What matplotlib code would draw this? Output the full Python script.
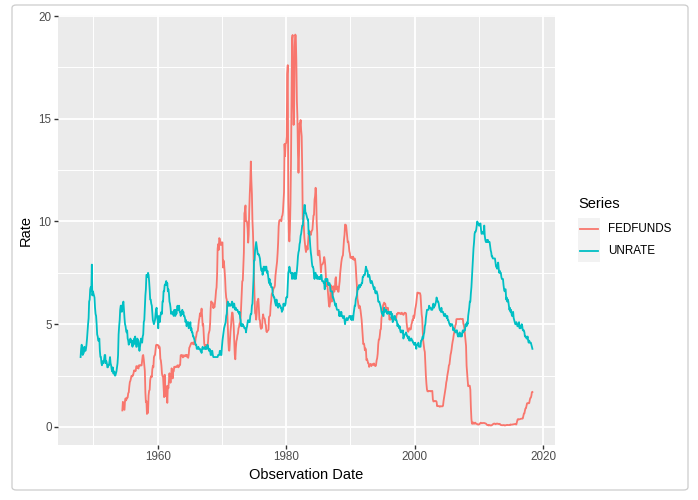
import numpy as np
import pandas as pd
import matplotlib
matplotlib.use("Agg")
import matplotlib.pyplot as plt
import matplotlib.dates as mdates
from matplotlib.patches import FancyBboxPatch, Rectangle
from matplotlib.lines import Line2D

# monthly unemployment rate, Jan 1948 - May 2018
unrate = [
    3.4, 3.8, 4.0, 3.9, 3.5, 3.6, 3.6, 3.9, 3.8, 3.7, 3.8, 4.0,
    4.3, 4.7, 5.0, 5.3, 6.1, 6.2, 6.7, 6.8, 6.6, 7.9, 6.4, 6.6,
    6.5, 6.4, 6.3, 5.8, 5.5, 5.4, 5.0, 4.5, 4.4, 4.2, 4.2, 4.3,
    3.7, 3.4, 3.4, 3.1, 3.0, 3.2, 3.1, 3.1, 3.3, 3.5, 3.5, 3.1,
    3.2, 3.1, 2.9, 2.9, 3.0, 3.0, 3.2, 3.4, 3.1, 3.0, 2.8, 2.7,
    2.9, 2.6, 2.6, 2.7, 2.5, 2.5, 2.6, 2.7, 2.9, 3.1, 3.5, 4.5,
    4.9, 5.2, 5.7, 5.9, 5.9, 5.6, 5.8, 6.0, 6.1, 5.7, 5.3, 5.0,
    4.9, 4.7, 4.6, 4.7, 4.3, 4.2, 4.0, 4.2, 4.1, 4.3, 4.2, 4.2,
    4.0, 3.9, 4.2, 4.0, 4.3, 4.3, 4.4, 4.1, 3.9, 3.9, 4.3, 4.2,
    4.2, 3.9, 3.7, 3.9, 4.1, 4.3, 4.2, 4.1, 4.4, 4.5, 5.1, 5.2,
    5.8, 6.4, 6.7, 7.4, 7.4, 7.3, 7.5, 7.4, 7.1, 6.7, 6.2, 6.2,
    6.0, 5.9, 5.6, 5.2, 5.1, 5.0, 5.1, 5.2, 5.5, 5.7, 5.8, 5.3,
    5.2, 4.8, 5.4, 5.2, 5.1, 5.4, 5.5, 5.6, 5.5, 6.1, 6.1, 6.6,
    6.6, 6.9, 6.9, 7.0, 7.1, 6.9, 7.0, 6.6, 6.7, 6.5, 6.1, 6.0,
    5.8, 5.5, 5.6, 5.6, 5.5, 5.5, 5.4, 5.7, 5.6, 5.4, 5.7, 5.5,
    5.7, 5.9, 5.7, 5.7, 5.9, 5.6, 5.6, 5.4, 5.5, 5.5, 5.7, 5.5,
    5.6, 5.4, 5.4, 5.3, 5.1, 5.2, 4.9, 5.0, 5.1, 5.1, 4.8, 5.0,
    4.9, 5.1, 4.7, 4.8, 4.6, 4.6, 4.4, 4.4, 4.3, 4.2, 4.1, 4.0,
    4.0, 3.8, 3.8, 3.8, 3.9, 3.8, 3.8, 3.8, 3.7, 3.7, 3.6, 3.8,
    3.9, 3.8, 3.8, 3.8, 3.8, 3.9, 3.8, 3.8, 3.8, 4.0, 3.9, 3.8,
    3.7, 3.8, 3.7, 3.5, 3.5, 3.7, 3.7, 3.5, 3.4, 3.4, 3.4, 3.4,
    3.4, 3.4, 3.4, 3.4, 3.4, 3.5, 3.5, 3.5, 3.7, 3.7, 3.5, 3.5,
    3.9, 4.2, 4.4, 4.6, 4.8, 4.9, 5.0, 5.1, 5.4, 5.5, 5.9, 6.1,
    5.9, 5.9, 6.0, 5.9, 5.9, 5.9, 6.0, 6.1, 6.0, 5.8, 6.0, 6.0,
    5.8, 5.7, 5.8, 5.7, 5.7, 5.7, 5.6, 5.6, 5.5, 5.6, 5.3, 5.2,
    4.9, 5.0, 4.9, 5.0, 4.9, 4.9, 4.8, 4.8, 4.8, 4.6, 4.8, 4.9,
    5.1, 5.2, 5.1, 5.1, 5.1, 5.4, 5.5, 5.5, 5.9, 6.0, 6.6, 7.2,
    8.1, 8.1, 8.6, 8.8, 9.0, 8.8, 8.6, 8.4, 8.4, 8.4, 8.3, 8.2,
    7.9, 7.7, 7.6, 7.7, 7.4, 7.6, 7.8, 7.8, 7.6, 7.7, 7.8, 7.8,
    7.5, 7.6, 7.4, 7.2, 7.0, 7.2, 6.9, 7.0, 6.8, 6.8, 6.8, 6.4,
    6.4, 6.3, 6.3, 6.1, 6.0, 5.9, 6.2, 5.9, 6.0, 5.8, 5.9, 6.0,
    5.9, 5.9, 5.8, 5.8, 5.6, 5.7, 5.7, 6.0, 5.9, 6.0, 5.9, 6.0,
    6.3, 6.3, 6.3, 6.9, 7.5, 7.6, 7.8, 7.7, 7.5, 7.5, 7.5, 7.2,
    7.5, 7.4, 7.4, 7.2, 7.5, 7.5, 7.2, 7.4, 7.6, 7.9, 8.3, 8.5,
    8.6, 8.9, 9.0, 9.3, 9.4, 9.6, 9.8, 9.8, 10.1, 10.4, 10.8, 10.8,
    10.4, 10.4, 10.3, 10.2, 10.1, 10.1, 9.4, 9.5, 9.2, 8.8, 8.5, 8.3,
    8.0, 7.8, 7.8, 7.7, 7.4, 7.2, 7.5, 7.5, 7.3, 7.4, 7.2, 7.3,
    7.3, 7.2, 7.2, 7.3, 7.2, 7.4, 7.4, 7.1, 7.1, 7.1, 7.0, 7.0,
    6.7, 7.2, 7.2, 7.1, 7.2, 7.2, 7.0, 6.9, 7.0, 7.0, 6.9, 6.6,
    6.6, 6.6, 6.6, 6.3, 6.3, 6.2, 6.1, 6.0, 5.9, 6.0, 5.8, 5.7,
    5.7, 5.7, 5.7, 5.4, 5.6, 5.4, 5.4, 5.6, 5.4, 5.4, 5.3, 5.3,
    5.4, 5.2, 5.0, 5.2, 5.2, 5.3, 5.2, 5.2, 5.3, 5.3, 5.4, 5.4,
    5.4, 5.3, 5.2, 5.4, 5.4, 5.2, 5.5, 5.7, 5.9, 5.9, 6.2, 6.3,
    6.4, 6.6, 6.8, 6.7, 6.9, 6.9, 6.8, 6.9, 6.9, 7.0, 7.0, 7.3,
    7.3, 7.4, 7.4, 7.4, 7.6, 7.8, 7.7, 7.6, 7.6, 7.3, 7.4, 7.4,
    7.3, 7.1, 7.0, 7.1, 7.1, 7.0, 6.9, 6.8, 6.7, 6.8, 6.6, 6.5,
    6.6, 6.6, 6.5, 6.4, 6.1, 6.1, 6.1, 6.0, 5.9, 5.8, 5.6, 5.5,
    5.6, 5.4, 5.4, 5.8, 5.6, 5.6, 5.7, 5.7, 5.6, 5.5, 5.6, 5.6,
    5.6, 5.5, 5.5, 5.6, 5.6, 5.3, 5.5, 5.1, 5.2, 5.2, 5.4, 5.4,
    5.3, 5.2, 5.2, 5.1, 4.9, 5.0, 4.9, 4.8, 4.9, 4.7, 4.6, 4.7,
    4.6, 4.6, 4.7, 4.3, 4.4, 4.5, 4.5, 4.5, 4.6, 4.5, 4.4, 4.4,
    4.3, 4.4, 4.2, 4.3, 4.2, 4.3, 4.3, 4.2, 4.2, 4.1, 4.1, 4.0,
    4.0, 4.1, 4.0, 3.8, 4.0, 4.0, 4.0, 4.1, 3.9, 3.9, 3.9, 3.9,
    4.2, 4.2, 4.3, 4.4, 4.3, 4.5, 4.6, 4.9, 5.0, 5.3, 5.5, 5.7,
    5.7, 5.7, 5.7, 5.9, 5.8, 5.8, 5.8, 5.7, 5.7, 5.7, 5.9, 6.0,
    5.8, 5.9, 5.9, 6.0, 6.1, 6.3, 6.2, 6.1, 6.1, 6.0, 5.8, 5.7,
    5.7, 5.6, 5.8, 5.6, 5.6, 5.6, 5.5, 5.4, 5.4, 5.5, 5.4, 5.4,
    5.3, 5.4, 5.2, 5.2, 5.1, 5.0, 5.0, 4.9, 5.0, 5.0, 5.0, 4.9,
    4.7, 4.8, 4.7, 4.7, 4.6, 4.6, 4.7, 4.7, 4.5, 4.4, 4.5, 4.4,
    4.6, 4.5, 4.4, 4.5, 4.4, 4.6, 4.7, 4.6, 4.7, 4.7, 4.7, 5.0,
    5.0, 4.9, 5.1, 5.0, 5.4, 5.6, 5.8, 6.1, 6.1, 6.5, 6.8, 7.3,
    7.8, 8.3, 8.7, 9.0, 9.4, 9.5, 9.5, 9.6, 9.8, 10.0, 9.9, 9.9,
    9.8, 9.8, 9.9, 9.9, 9.6, 9.4, 9.4, 9.5, 9.5, 9.4, 9.8, 9.3,
    9.1, 9.0, 9.0, 9.1, 9.0, 9.1, 9.0, 9.0, 9.0, 8.8, 8.6, 8.5,
    8.3, 8.3, 8.2, 8.2, 8.2, 8.2, 8.2, 8.0, 7.8, 7.8, 7.7, 7.9,
    8.0, 7.7, 7.5, 7.6, 7.5, 7.5, 7.3, 7.2, 7.2, 7.2, 6.9, 6.7,
    6.6, 6.7, 6.7, 6.2, 6.3, 6.1, 6.2, 6.1, 5.9, 5.7, 5.8, 5.6,
    5.7, 5.5, 5.4, 5.4, 5.6, 5.3, 5.2, 5.1, 5.0, 5.0, 5.1, 5.0,
    4.9, 4.9, 5.0, 5.1, 4.8, 4.9, 4.8, 4.9, 5.0, 4.9, 4.7, 4.7,
    4.7, 4.6, 4.4, 4.4, 4.4, 4.3, 4.3, 4.4, 4.2, 4.1, 4.2, 4.1,
    4.1, 4.1, 4.0, 3.9, 3.8,
]

# monthly effective federal funds rate, Jul 1954 - May 2018
fedfunds = [
    0.80, 1.22, 1.07, 0.85, 0.83, 1.28,
    1.39, 1.29, 1.35, 1.43, 1.43, 1.64, 1.68, 1.96, 2.18, 2.24, 2.35, 2.48,
    2.45, 2.50, 2.50, 2.62, 2.75, 2.71, 2.75, 2.73, 2.95, 2.96, 2.88, 2.94,
    2.84, 3.00, 2.96, 3.00, 3.00, 3.00, 2.99, 3.24, 3.47, 3.50, 3.28, 2.98,
    2.72, 1.67, 1.20, 1.26, 0.63, 0.93, 0.68, 1.53, 1.76, 1.80, 2.27, 2.42,
    2.48, 2.43, 2.80, 2.96, 2.90, 3.39, 3.47, 3.50, 3.76, 3.98, 4.00, 3.99,
    3.99, 3.97, 3.84, 3.92, 3.85, 3.32, 3.23, 2.98, 2.60, 2.47, 2.44, 1.98,
    1.45, 2.54, 2.02, 1.49, 1.98, 1.73, 1.17, 2.00, 1.88, 2.26, 2.61, 2.33,
    2.15, 2.37, 2.85, 2.78, 2.36, 2.68, 2.71, 2.93, 2.90, 2.90, 2.94, 2.93,
    2.92, 3.00, 2.98, 2.90, 3.00, 2.99, 3.02, 3.49, 3.48, 3.50, 3.48, 3.38,
    3.48, 3.48, 3.43, 3.47, 3.50, 3.50, 3.42, 3.50, 3.45, 3.36, 3.52, 3.85,
    3.90, 3.98, 4.04, 4.09, 4.10, 4.04, 4.09, 4.12, 4.01, 4.08, 4.10, 4.32,
    4.42, 4.60, 4.65, 4.67, 4.90, 5.17, 5.30, 5.53, 5.40, 5.53, 5.76, 5.40,
    4.94, 5.00, 4.53, 4.05, 3.94, 3.98, 3.79, 3.90, 3.99, 3.88, 4.13, 4.51,
    4.61, 4.71, 5.05, 5.76, 6.11, 6.07, 6.03, 6.03, 5.78, 5.91, 5.82, 6.02,
    6.30, 6.64, 6.79, 7.41, 8.67, 8.90, 8.61, 9.19, 9.15, 9.00, 8.85, 8.97,
    8.98, 8.98, 7.76, 8.10, 7.95, 7.61, 7.21, 6.61, 6.29, 6.20, 5.60, 4.90,
    4.14, 3.72, 3.71, 4.16, 4.63, 4.91, 5.31, 5.57, 5.55, 5.20, 4.91, 4.14,
    3.50, 3.29, 3.83, 4.17, 4.27, 4.46, 4.55, 4.80, 4.87, 5.04, 5.06, 5.33,
    5.94, 6.58, 7.09, 7.12, 7.84, 8.49, 10.40, 10.50, 10.78, 10.01, 10.03, 9.95,
    9.65, 8.97, 9.35, 10.51, 11.31, 11.93, 12.92, 12.01, 11.34, 10.06, 9.45, 8.53,
    7.13, 6.24, 5.54, 5.49, 5.22, 5.55, 6.10, 6.14, 6.24, 5.82, 5.22, 5.20,
    4.87, 4.77, 4.84, 4.82, 5.29, 5.48, 5.31, 5.29, 5.25, 5.03, 4.95, 4.65,
    4.61, 4.68, 4.69, 4.73, 5.35, 5.39, 5.42, 5.90, 6.14, 6.47, 6.51, 6.56,
    6.70, 6.78, 6.79, 6.89, 7.36, 7.60, 7.81, 8.04, 8.45, 8.96, 9.76, 10.03,
    10.07, 10.06, 10.09, 10.01, 10.24, 10.29, 10.47, 10.94, 11.43, 13.77, 13.18, 13.78,
    13.82, 14.13, 17.19, 17.61, 10.98, 9.47, 9.03, 9.61, 10.87, 12.81, 15.85, 18.90,
    19.08, 15.93, 14.70, 15.72, 18.52, 19.10, 19.04, 17.82, 15.87, 15.08, 13.31, 12.37,
    13.22, 14.78, 14.68, 14.94, 14.45, 14.15, 12.59, 10.12, 10.31, 9.71, 9.20, 8.95,
    8.68, 8.51, 8.77, 8.80, 8.63, 8.98, 9.37, 9.56, 9.45, 9.48, 9.34, 9.47,
    9.56, 9.59, 9.91, 10.29, 10.32, 11.06, 11.23, 11.64, 11.30, 9.99, 9.43, 8.38,
    8.35, 8.50, 8.58, 8.27, 7.97, 7.53, 7.88, 7.90, 7.92, 7.99, 8.05, 8.27,
    8.14, 7.86, 7.48, 6.99, 6.85, 6.92, 6.56, 6.17, 5.89, 5.85, 6.04, 6.91,
    6.43, 6.10, 6.13, 6.37, 6.85, 6.73, 6.58, 6.73, 7.22, 7.29, 6.69, 6.77,
    6.83, 6.58, 6.58, 6.87, 7.09, 7.51, 7.75, 8.01, 8.19, 8.30, 8.35, 8.76,
    9.12, 9.36, 9.85, 9.84, 9.81, 9.53, 9.24, 8.99, 9.02, 8.84, 8.55, 8.45,
    8.23, 8.24, 8.28, 8.26, 8.18, 8.29, 8.15, 8.13, 8.20, 8.11, 7.81, 7.31,
    6.91, 6.25, 6.12, 5.91, 5.78, 5.90, 5.82, 5.66, 5.45, 5.21, 4.81, 4.43,
    4.03, 4.06, 3.98, 3.73, 3.82, 3.76, 3.25, 3.30, 3.22, 3.10, 3.09, 2.92,
    3.02, 3.03, 3.07, 2.96, 3.00, 3.04, 3.06, 3.03, 3.09, 2.99, 3.02, 2.96,
    3.05, 3.25, 3.34, 3.56, 4.01, 4.25, 4.26, 4.47, 4.73, 4.76, 5.29, 5.45,
    5.53, 5.92, 5.98, 6.05, 6.01, 6.00, 5.85, 5.74, 5.80, 5.76, 5.80, 5.60,
    5.56, 5.22, 5.31, 5.22, 5.24, 5.27, 5.40, 5.22, 5.30, 5.24, 5.31, 5.29,
    5.25, 5.19, 5.39, 5.51, 5.50, 5.56, 5.52, 5.54, 5.54, 5.50, 5.52, 5.50,
    5.56, 5.51, 5.49, 5.45, 5.49, 5.56, 5.54, 5.55, 5.51, 5.07, 4.83, 4.68,
    4.63, 4.76, 4.81, 4.74, 4.74, 4.76, 4.99, 5.07, 5.22, 5.20, 5.42, 5.30,
    5.45, 5.73, 5.85, 6.02, 6.27, 6.53, 6.54, 6.50, 6.52, 6.51, 6.51, 6.40,
    5.98, 5.49, 5.31, 4.80, 4.21, 3.97, 3.77, 3.65, 3.07, 2.49, 2.09, 1.82,
    1.73, 1.74, 1.73, 1.75, 1.75, 1.75, 1.73, 1.74, 1.75, 1.75, 1.34, 1.24,
    1.24, 1.26, 1.25, 1.26, 1.26, 1.22, 1.01, 1.03, 1.01, 1.01, 1.00, 0.98,
    1.00, 1.01, 1.00, 1.00, 1.00, 1.03, 1.26, 1.43, 1.61, 1.76, 1.93, 2.16,
    2.28, 2.50, 2.63, 2.79, 3.00, 3.04, 3.26, 3.50, 3.62, 3.78, 4.00, 4.16,
    4.29, 4.49, 4.59, 4.79, 4.94, 4.99, 5.24, 5.25, 5.25, 5.25, 5.25, 5.24,
    5.25, 5.26, 5.26, 5.25, 5.25, 5.25, 5.26, 5.02, 4.94, 4.76, 4.49, 4.24,
    3.94, 2.98, 2.61, 2.28, 1.98, 2.00, 2.01, 2.00, 1.81, 0.97, 0.39, 0.16,
    0.15, 0.22, 0.18, 0.15, 0.18, 0.21, 0.16, 0.16, 0.15, 0.12, 0.12, 0.12,
    0.11, 0.13, 0.16, 0.20, 0.20, 0.18, 0.18, 0.19, 0.19, 0.19, 0.19, 0.18,
    0.17, 0.16, 0.14, 0.10, 0.09, 0.09, 0.07, 0.10, 0.08, 0.07, 0.08, 0.07,
    0.08, 0.10, 0.13, 0.14, 0.16, 0.16, 0.16, 0.13, 0.14, 0.16, 0.16, 0.16,
    0.14, 0.15, 0.14, 0.15, 0.11, 0.09, 0.09, 0.08, 0.08, 0.09, 0.08, 0.09,
    0.07, 0.07, 0.08, 0.09, 0.09, 0.10, 0.09, 0.09, 0.09, 0.09, 0.09, 0.12,
    0.11, 0.11, 0.11, 0.12, 0.12, 0.13, 0.13, 0.14, 0.14, 0.12, 0.12, 0.24,
    0.34, 0.38, 0.36, 0.37, 0.37, 0.38, 0.39, 0.40, 0.40, 0.40, 0.41, 0.54,
    0.65, 0.66, 0.79, 0.90, 0.91, 1.04, 1.15, 1.16, 1.15, 1.15, 1.16, 1.30,
    1.41, 1.42, 1.51, 1.69, 1.70,
]

series_names = ["FEDFUNDS", "UNRATE"]
series_colors = ["#F8766D", "#00BFC4"]
x_ticks = [1960, 1980, 2000, 2020]
y_ticks = [0, 5, 10, 15, 20]

unrate_dates = pd.date_range("1948-01-01", periods=len(unrate), freq="MS")
fed_dates = pd.date_range("1954-07-01", periods=len(fedfunds), freq="MS")

W, H = 698, 500


def fx(px):
    return px / W


def fy(py):
    # pixel rows count from the top
    return 1 - py / H


def main():
    plt.rcParams['font.family'] = ['Liberation Sans', 'DejaVu Sans']

    fig = plt.figure(figsize=(W / 100, H / 100), dpi=100)

    # light frame round the whole picture
    frame = FancyBboxPatch((fx(12), fy(490)), fx(676), 485 / H,
                           boxstyle="round,pad=0,rounding_size=0.006",
                           transform=fig.transFigure, facecolor="none",
                           edgecolor="#CCCCCC", linewidth=0.9)
    fig.add_artist(frame)

    ax = fig.add_axes([fx(58), fy(445), fx(497), 430 / H])
    ax.set_facecolor("#EBEBEB")
    for s in ax.spines.values():
        s.set_visible(False)

    ax.plot(fed_dates, fedfunds, color=series_colors[0], lw=1.3,
            solid_joinstyle="round", zorder=3)
    ax.plot(unrate_dates, unrate, color=series_colors[1], lw=1.3,
            solid_joinstyle="round", zorder=3)

    # ggplot style 5% expansion
    x0 = mdates.date2num(unrate_dates[0])
    x1 = mdates.date2num(max(unrate_dates[-1], fed_dates[-1]))
    dx = (x1 - x0) * 0.05
    ax.set_xlim(x0 - dx, x1 + dx)
    y0 = min(min(unrate), min(fedfunds))
    y1 = max(max(unrate), max(fedfunds))
    dy = (y1 - y0) * 0.05
    ax.set_ylim(y0 - dy, y1 + dy)

    major_x = [mdates.date2num(pd.Timestamp(f"{y}-01-01")) for y in x_ticks]
    minor_x = [mdates.date2num(pd.Timestamp(f"{y}-01-01"))
               for y in [1950, 1970, 1990, 2010]]
    ax.set_xticks(major_x)
    ax.set_xticklabels([str(y) for y in x_ticks])
    ax.set_xticks(minor_x, minor=True)
    ax.set_yticks(y_ticks)
    ax.set_yticklabels([str(y) for y in y_ticks])
    ax.set_yticks([2.5, 7.5, 12.5, 17.5], minor=True)

    ax.grid(which="major", color="white", lw=1.35, zorder=1)
    ax.grid(which="minor", color="white", lw=0.7, zorder=1)
    ax.set_axisbelow(True)

    ax.tick_params(which="major", length=2.6, width=1.0, color="#333333",
                   labelsize=8.4, labelcolor="#4D4D4D", pad=2)
    ax.tick_params(which="minor", length=0)

    ax.set_xlabel("Observation Date", fontsize=10.5, color="black", labelpad=3)
    ax.set_ylabel("Rate", fontsize=10.5, color="black", labelpad=4)

    # legend drawn by hand, ggplot style: grey key boxes with a line segment
    fig.text(fx(578), fy(204), "Series", fontsize=10.5, color="black",
             ha="left", va="center")
    key_top = 218
    key = 22
    for i, (name, col) in enumerate(zip(series_names, series_colors)):
        top = key_top + i * key
        fig.add_artist(Rectangle((fx(578), fy(top + key)), fx(key), key / H,
                                 transform=fig.transFigure,
                                 facecolor="#F2F2F2", edgecolor="none"))
        mid = top + key / 2
        fig.add_artist(Line2D([fx(580), fx(598)], [fy(mid), fy(mid)],
                              transform=fig.transFigure, color=col, lw=1.3))
        fig.text(fx(608), fy(mid), name, fontsize=8.4, color="black",
                 ha="left", va="center")

    fig.savefig("out.png", dpi=100)


if __name__ == '__main__':
    main()
